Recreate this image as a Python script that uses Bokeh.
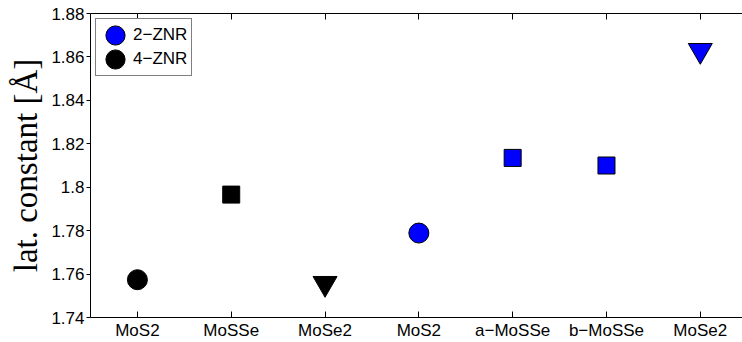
from bokeh.plotting import figure
from bokeh.models import (FixedTicker, LinearAxis, Legend, LegendItem,
                          ColumnDataSource, Range1d)
from bokeh.embed import file_html
from bokeh.resources import INLINE

# ---- data ----
structures = ["MoS2", "MoSSe", "MoSe2", "MoS2", "a−MoSSe", "b−MoSSe", "MoSe2"]
compound = ["MoS2", "MoSSe", "MoSe2", "MoS2", "MoSSe", "MoSSe", "MoSe2"]
ribbon = ["4−ZNR", "4−ZNR", "4−ZNR", "2−ZNR", "2−ZNR", "2−ZNR", "2−ZNR"]
lat_const = [1.7574, 1.7966, 1.7557, 1.7789, 1.8135, 1.8100, 1.8630]
y_ticks = [1.74, 1.76, 1.78, 1.80, 1.82, 1.84, 1.86, 1.88]
y_tick_labels = ["1.74", "1.76", "1.78", "1.8", "1.82", "1.84", "1.86", "1.88"]
legend_order = ["2−ZNR", "4−ZNR"]

positions = list(range(1, len(structures) + 1))

# ---- styles ----
FILL = {"2−ZNR": "#0000ff", "4−ZNR": "#000000"}
MARKER = {"MoSSe": ("square", 17), "MoSe2": ("inverted_triangle", 24)}
CIRCLE_D = 20
SANS = "Liberation Sans"

p = figure(width=742, height=342, output_backend="svg", toolbar_location=None,
           x_range=Range1d(0.5, 7.45), y_range=Range1d(1.74, 1.88),
           min_border_left=90, min_border_right=0, min_border_top=13,
           min_border_bottom=20, background_fill_color="white",
           border_fill_color="white")
p.outline_line_color = None
p.grid.visible = False

circle_renderers = {}
for rb in legend_order:
    for comp in ["MoS2", "MoSSe", "MoSe2"]:
        idx = [i for i in range(len(positions)) if ribbon[i] == rb and compound[i] == comp]
        if not idx:
            continue
        src = ColumnDataSource(dict(x=[positions[i] for i in idx],
                                    y=[lat_const[i] for i in idx]))
        if comp == "MoS2":
            r = p.ellipse(x="x", y="y", width=CIRCLE_D, height=CIRCLE_D,
                          width_units="screen", height_units="screen",
                          fill_color=FILL[rb], line_color="black", line_width=1,
                          source=src)
            circle_renderers[rb] = r
        else:
            mk, sz = MARKER[comp]
            p.scatter(x="x", y="y", marker=mk, size=sz, fill_color=FILL[rb],
                      line_color="black", line_width=1, source=src)

# ---- axes ----
xa = p.xaxis[0]
xa.ticker = FixedTicker(ticks=positions)
xa.major_label_overrides = {pos: lab for pos, lab in zip(positions, structures)}
xa.major_tick_in = 6
xa.major_tick_out = 0
xa.minor_tick_line_color = None
xa.major_label_standoff = 3
xa.major_label_text_font = SANS
xa.major_label_text_font_size = "17px"
xa.major_label_text_color = "black"
xa.axis_line_color = "black"
xa.major_tick_line_color = "black"

ya = p.yaxis[0]
ya.ticker = FixedTicker(ticks=y_ticks)
ya.major_label_overrides = {t: lab for t, lab in zip(y_ticks, y_tick_labels)}
ya.major_tick_in = 0
ya.major_tick_out = 4
ya.minor_tick_line_color = None
ya.major_label_standoff = 2
ya.major_label_text_font = SANS
ya.major_label_text_font_size = "17px"
ya.major_label_text_color = "black"
ya.axis_line_color = "black"
ya.major_tick_line_color = "black"
ya.axis_label = "lat. constant [Å]"
ya.axis_label_text_font = "Liberation Serif"
ya.axis_label_text_font_style = "normal"
ya.axis_label_text_font_size = "33px"
ya.axis_label_text_color = "black"
ya.axis_label_standoff = 4

top = LinearAxis(ticker=FixedTicker(ticks=positions), major_tick_in=6,
                 major_tick_out=0, major_label_text_font_size="0px",
                 major_label_standoff=0, minor_tick_line_color=None,
                 axis_line_color="black", major_tick_line_color="black")
top.major_label_overrides = {pos: "" for pos in positions}
p.add_layout(top, "above")

# ---- legend ----
items = [LegendItem(label=rb, renderers=[circle_renderers[rb]]) for rb in legend_order]
leg = Legend(items=items, location="top_left", margin=5, padding=4, spacing=-4,
             glyph_width=30, glyph_height=24, label_standoff=3,
             label_text_font=SANS, label_text_font_size="17px",
             label_text_color="black", label_height=20,
             border_line_color="black", border_line_width=1,
             background_fill_color="white", background_fill_alpha=1.0)
p.add_layout(leg, "center")

open("out.html", "w").write(file_html(p, INLINE))
